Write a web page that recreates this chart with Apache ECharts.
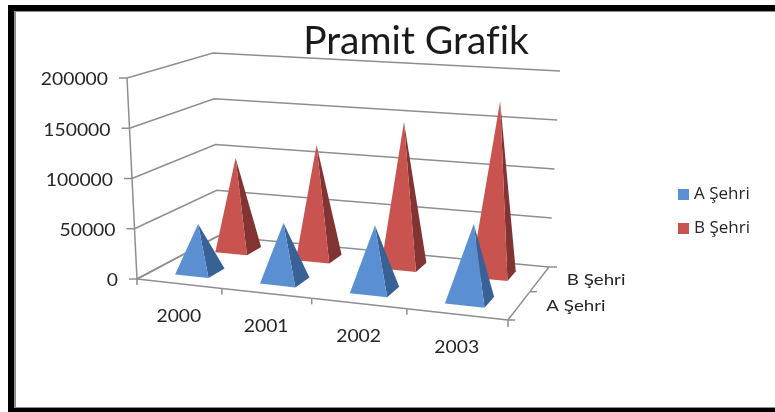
<!DOCTYPE html>
<html lang="tr">
<head>
    <meta charset="UTF-8">
    <title>Pramit Grafik</title>
    <script src="https://cdn.jsdelivr.net/npm/echarts@6/dist/echarts.min.js"></script>
    <style>
        html, body { margin: 0; padding: 0; background: #fff; }
    </style>
</head>
<body>
    <div id="container" style="width:775px;height:412px"></div>

    <script type="text/javascript">
        var years = ['2000', '2001', '2002', '2003'];
        var cities = ['A Şehri', 'B Şehri'];
        var cityA = [48000, 57000, 63000, 73000];
        var cityB = [97000, 117000, 147000, 174000];
        var yTicks = [0, 50000, 100000, 150000, 200000];

        var font = 'Lato, "Open Sans", sans-serif';
        var lineColor = '#8e8e8e';
        var textColor = '#262626';

        // the box of the 3D view on screen: floor and top plane, corners [x,z]: 00,10,11,01
        var floorQuad = [[137, 279], [508, 320], [549, 267], [218, 236]];
        var topQuad = [[127, 78], [528, 105], [560, 71], [213, 53]];

        function homography(q) {
            var dx1 = q[1][0] - q[2][0], dx2 = q[3][0] - q[2][0], sx = q[0][0] - q[1][0] + q[2][0] - q[3][0];
            var dy1 = q[1][1] - q[2][1], dy2 = q[3][1] - q[2][1], sy = q[0][1] - q[1][1] + q[2][1] - q[3][1];
            var det = dx1 * dy2 - dx2 * dy1;
            var g = (sx * dy2 - dx2 * sy) / det;
            var h = (dx1 * sy - sx * dy1) / det;
            return function (u, z) {
                var w = g * u + h * z + 1;
                return [
                    ((q[1][0] - q[0][0] + g * q[1][0]) * u + (q[3][0] - q[0][0] + h * q[3][0]) * z + q[0][0]) / w,
                    ((q[1][1] - q[0][1] + g * q[1][1]) * u + (q[3][1] - q[0][1] + h * q[3][1]) * z + q[0][1]) / w
                ];
            };
        }
        var floorMap = homography(floorQuad);
        var topMap = homography(topQuad);

        // u: 0-1 along years, z: 0-1 into the depth, v: 0-1 up the value axis
        function project(u, z, v) {
            var a = floorMap(u, z), b = topMap(u, z);
            return [a[0] + (b[0] - a[0]) * v, a[1] + (b[1] - a[1]) * v];
        }

        function toUnit(params, api, cat, value) {
            var rect = params.coordSys;
            var p = api.coord([cat, value]);
            return [(p[0] - rect.x) / rect.width, 1 - (p[1] - rect.y) / rect.height];
        }

        function line(points, width) {
            return {
                type: 'polyline',
                shape: { points: points },
                style: { stroke: lineColor, lineWidth: width || 1.5, fill: null },
                silent: true
            };
        }

        // the reference text is stretched sideways, so scaleX widens it
        function label(text, x, y, size, align) {
            return {
                type: 'text',
                x: x,
                y: y,
                scaleX: 1.17,
                style: {
                    text: text,
                    font: size + 'px ' + font,
                    fill: textColor,
                    align: align || 'center',
                    verticalAlign: 'middle'
                },
                silent: true
            };
        }

        function pyramidSeries(name, values, depth, front, side, z) {
            return {
                name: name,
                type: 'custom',
                z: z,
                itemStyle: { color: front },
                data: values.map(function (v, i) { return [i, v]; }),
                encode: { x: 0, y: 1 },
                renderItem: function (params, api) {
                    var cat = api.value(0);
                    var unit = toUnit(params, api, cat, api.value(1));
                    var halfU = 0.4 * api.size([1, 0])[0] / params.coordSys.width / 2;
                    var halfZ = 0.4 * (1 / cities.length) / 2;
                    var u = unit[0];
                    var fl = project(u - halfU, depth - halfZ, 0);
                    var fr = project(u + halfU, depth - halfZ, 0);
                    var br = project(u + halfU, depth + halfZ, 0);
                    var apex = project(u, depth, unit[1]);
                    return {
                        type: 'group',
                        children: [
                            { type: 'polygon', shape: { points: [fr, br, apex] }, style: { fill: side } },
                            { type: 'polygon', shape: { points: [fl, fr, apex] }, style: { fill: front } }
                        ]
                    };
                }
            };
        }

        var wallSeries = {
            type: 'custom',
            z: 1,
            silent: true,
            data: yTicks.map(function (v) { return [0, v]; }),
            encode: { x: 0, y: 1 },
            renderItem: function (params, api) {
                var value = api.value(1);
                var v = toUnit(params, api, 0, value)[1];
                var a = project(0, 0, v);
                var kids = [
                    line([a, project(0, 1, v), project(1, 1, v)]),
                    line([[a[0] - 8, a[1]], a]),
                    label(String(value), a[0] - 19, a[1] + 2, 16.5, 'right')
                ];
                if (params.dataIndex === 0) {
                    kids.push(line([project(0, 0, 1), a]));
                }
                return { type: 'group', children: kids };
            }
        };

        var floorSeries = {
            type: 'custom',
            z: 1,
            silent: true,
            data: years.map(function (y, i) { return [i, 0]; }),
            encode: { x: 0, y: 1 },
            renderItem: function (params, api) {
                var i = api.value(0);
                var center = toUnit(params, api, i, 0)[0];
                var half = api.size([1, 0])[0] / params.coordSys.width / 2;
                var a = project(center - half, 0, 0);
                var b = project(center + half, 0, 0);
                var kids = [
                    line([a, b]),
                    line([a, [a[0], a[1] + 6]]),
                    label(years[i], project(center, 0, 0)[0], project(center, 0, 0)[1] + 33, 16.5)
                ];
                if (i === years.length - 1) {
                    kids.push(line([b, [b[0], b[1] + 7]]));
                }
                return { type: 'group', children: kids };
            }
        };

        var depthSeries = {
            type: 'custom',
            z: 1,
            silent: true,
            data: cities.map(function (c, i) { return [0, i]; }),
            encode: { x: 0 },
            renderItem: function (params, api) {
                var i = params.dataIndex;
                var n = cities.length;
                var a = project(1, i / n, 0);
                var b = project(1, (i + 1) / n, 0);
                var mid = project(1, (i + 0.5) / n, 0);
                var kids = [
                    line([project(0, i / n, 0), project(0, (i + 1) / n, 0)]),
                    line([a, b]),
                    line([a, [a[0] + 7, a[1]]]),
                    label(cities[i], mid[0] + 27, mid[1] + 1, 16, 'left')
                ];
                if (i === n - 1) {
                    kids.push(line([b, [b[0] + 8, b[1]]]));
                }
                return { type: 'group', children: kids };
            }
        };

        var option = {
            backgroundColor: '#fff',
            animation: false,
            title: {
                text: 'Pramit Grafik',
                left: 411,
                top: 17,
                textAlign: 'center',
                textStyle: { fontFamily: font, fontSize: 39, fontWeight: 'normal', color: '#1a1a1a' }
            },
            legend: {
                orient: 'vertical',
                left: 673,
                top: 181,
                itemWidth: 11,
                itemHeight: 11,
                itemGap: 17,
                itemStyle: { borderWidth: 0 },
                icon: 'rect',
                data: cities,
                textStyle: { fontFamily: '"Open Sans", sans-serif', fontSize: 17, color: textColor }
            },
            grid: { left: 140, right: 240, top: 78, bottom: 133 },
            xAxis: { type: 'category', data: years, show: false },
            yAxis: { type: 'value', min: 0, max: 200000, interval: 50000, show: false },
            series: [
                wallSeries,
                floorSeries,
                depthSeries,
                pyramidSeries(cities[0], cityA, 0.25, '#5a8fd2', '#386195', 4),
                pyramidSeries(cities[1], cityB, 0.75, '#c8534f', '#823432', 3)
            ],
            graphic: [
                { type: 'rect', silent: true, shape: { x: 8, y: 5, width: 767, height: 407 }, style: { fill: '#000' }, z: 0 },
                { type: 'rect', silent: true, shape: { x: 14, y: 11, width: 761, height: 397 }, style: { fill: '#8e8e8e' }, z: 0 },
                { type: 'rect', silent: true, shape: { x: 16, y: 12, width: 759, height: 395 }, style: { fill: '#fff' }, z: 0 }
            ]
        };

        var myChart = echarts.init(document.getElementById('container'));
        myChart.setOption(option);
    </script>
</body>
</html>
